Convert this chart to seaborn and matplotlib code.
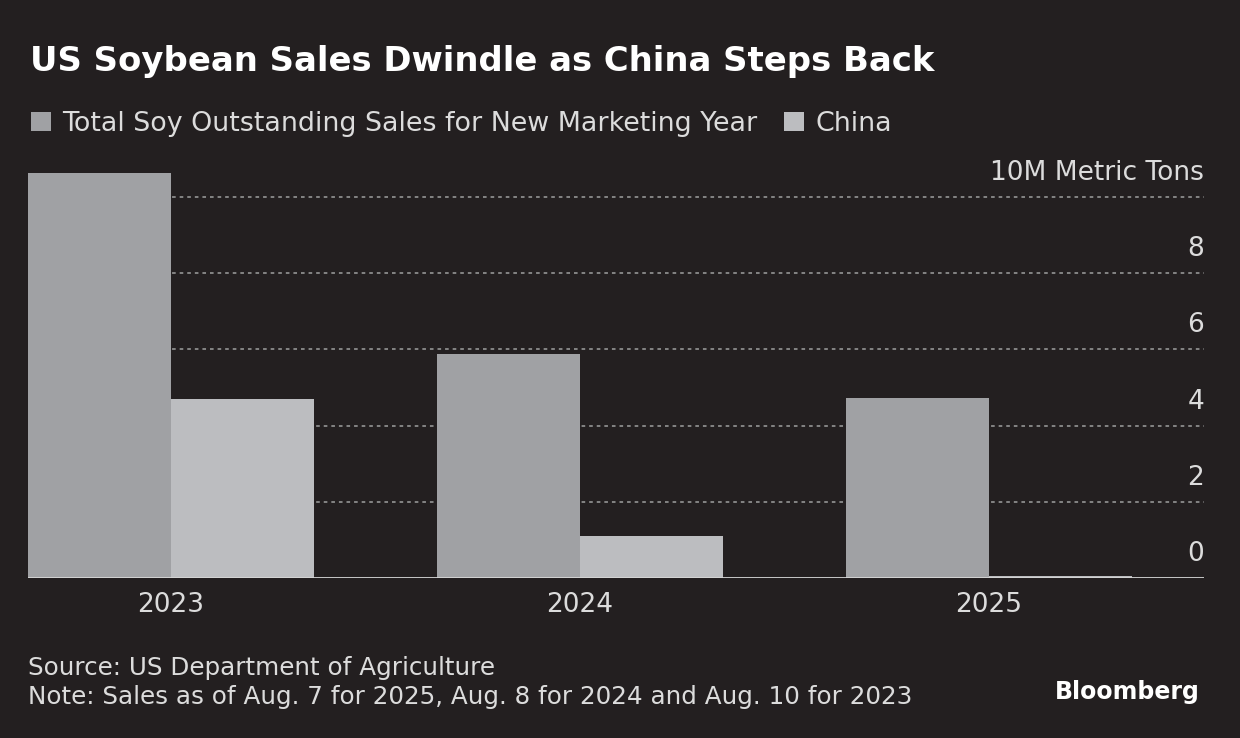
import matplotlib.pyplot as plt
import matplotlib.transforms as mtransforms
import pandas as pd
import seaborn as sns

# data (10M metric tons)
years = ["2023", "2024", "2025"]
total_sales = [10.63, 5.88, 4.72]
china_sales = [4.70, 1.10, 0.05]
series_names = ["Total Soy Outstanding Sales for New Marketing Year", "China"]
y_ticks = [0, 2, 4, 6, 8, 10]
y_tick_labels = ["0", "2", "4", "6", "8", "10M Metric Tons"]

bg = "#231f20"
text_col = "#dcdcdc"
bar_cols = ["#a0a1a4", "#bcbdc0"]

df = pd.DataFrame({
    "year": years * 2,
    "series": [series_names[0]] * len(years) + [series_names[1]] * len(years),
    "value": total_sales + china_sales,
})

sns.set_theme(style="dark")
plt.rcParams["font.family"] = ["DejaVu Sans"]

fig = plt.figure(figsize=(12.4, 7.38), dpi=100, facecolor=bg)
ax = fig.add_axes([0.02258, 0.2168, 0.9484, 0.5627])
ax.set_facecolor(bg)

sns.barplot(data=df, x="year", y="value", hue="series", palette=bar_cols,
            width=0.7, saturation=1, linewidth=0, ax=ax, zorder=2)

# dotted gridlines + baseline
for v in y_ticks[1:]:
    ax.axhline(v, color="#8c8c8c", lw=1.3, ls=(0, (2, 2.2)), zorder=1)
ax.axhline(0, color="#d6d6d6", lw=2, zorder=3)

ax.set_xlim(-0.35, 2.526)
ax.set_ylim(0, 10.9)
for s in ax.spines.values():
    s.set_visible(False)
ax.set_yticks([])
ax.set_xlabel("")
ax.set_ylabel("")
ax.tick_params(axis="x", length=0, pad=10, labelsize=19, labelcolor=text_col)

# y labels sit just above their gridlines, on the right
trans = mtransforms.blended_transform_factory(ax.transAxes, ax.transData)
trans = mtransforms.offset_copy(trans, fig=fig, x=0, y=17, units="dots")
for v, lab in zip(y_ticks, y_tick_labels):
    ax.text(1.0, v, lab, transform=trans, ha="right", va="baseline",
            fontsize=19, color=text_col)

sns.move_legend(ax, "center left", bbox_to_anchor=(0.025, 0.832),
                bbox_transform=fig.transFigure, ncol=2, frameon=False,
                title=None, handlelength=0.75, handleheight=0.75,
                handletextpad=0.4, columnspacing=1.0, fontsize=19.4,
                labelcolor=text_col, borderaxespad=0, borderpad=0)

fig.text(0.024, 1 - 62 / 738, "US Soybean Sales Dwindle as China Steps Back",
         fontsize=24.4, fontweight="bold", color="white", va="center")
fig.text(0.0226, 1 - 668 / 738, "Source: US Department of Agriculture",
         fontsize=17.7, color=text_col, va="center")
fig.text(0.0226, 1 - 697 / 738,
         "Note: Sales as of Aug. 7 for 2025, Aug. 8 for 2024 and Aug. 10 for 2023",
         fontsize=17.7, color=text_col, va="center")
fig.text(1200 / 1240, 1 - 692 / 738, "Bloomberg", fontsize=17,
         fontweight="bold", color="white", ha="right", va="center")

fig.savefig("out.png", dpi=100, facecolor=bg)
